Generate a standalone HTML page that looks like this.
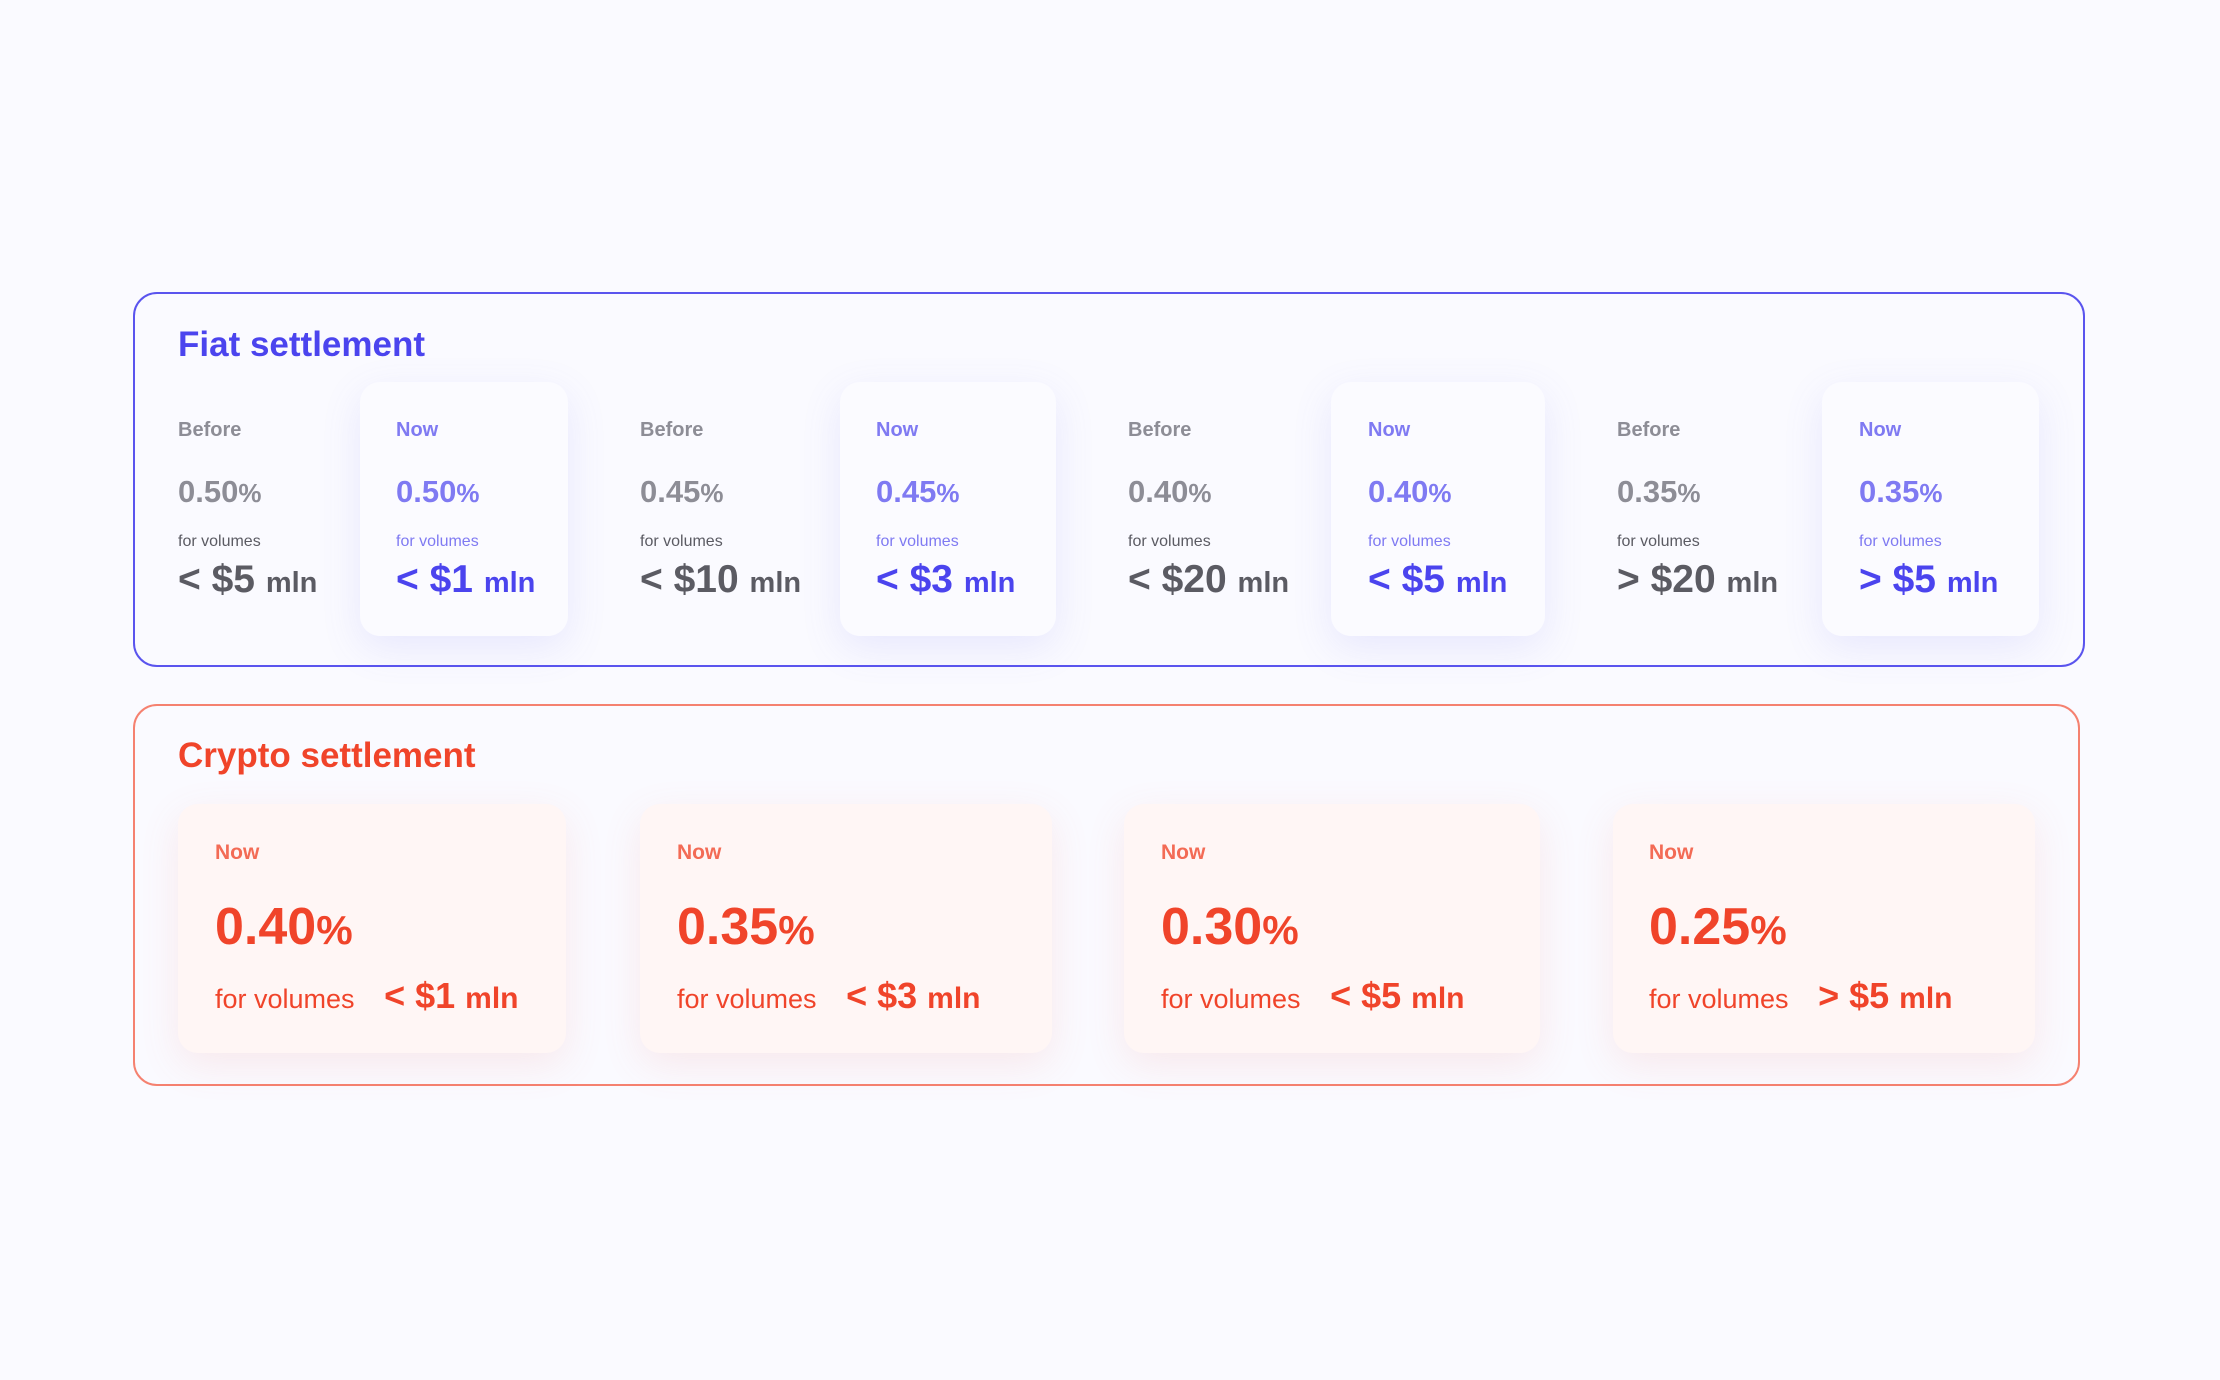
<!DOCTYPE html>
<html><head><meta charset="utf-8"><style>
body{margin:0;width:2220px;height:1380px;background:#fafaff;font-family:"Liberation Sans",sans-serif;position:relative;overflow:hidden}
.box{position:absolute;border-radius:24px;box-sizing:border-box}
.fiat{left:133px;top:292px;width:1952px;height:375px;border:2px solid #5a54ee}
.crypto{left:133px;top:704px;width:1947px;height:382px;border:2px solid #f58170}
.title{position:absolute;font-weight:bold;font-size:35px;line-height:1}
.ncard{position:absolute;top:382px;height:254px;background:#fbfbff;border-radius:20px;box-shadow:0 12px 40px rgba(110,105,240,0.13)}
.ccard{position:absolute;top:804px;height:249px;background:#fff6f5;border-radius:20px;box-shadow:0 12px 40px rgba(240,110,100,0.12)}
.lbl{position:absolute;font-weight:bold;font-size:20px;line-height:1}
.pct{position:absolute;font-weight:bold;font-size:31px;line-height:1}
.pct small{font-size:26px}
.fv{position:absolute;font-size:16px;line-height:1}
.big{position:absolute;font-weight:bold;font-size:39px;line-height:1;white-space:nowrap}
.big small{font-size:29px}
.gray{color:#8d8d96}.dgray{color:#5b5b63}.lb{color:#7f7af2}.bl{color:#4b44ee}
.cn{position:absolute;font-weight:bold;font-size:21px;color:#f36b55;line-height:1}
.cp{position:absolute;font-weight:bold;font-size:52px;color:#f0442a;line-height:1}
.cp small{font-size:41px}
.cv{position:absolute;font-size:27px;color:#f0442a;line-height:1;white-space:nowrap}
.cv b{font-size:36px;margin-left:22px}
.cv b small{font-size:30px}
</style></head><body>
<div class="box fiat"></div>
<div class="title" style="left:178px;top:327px;color:#4b44ee">Fiat settlement</div>

<div class="ncard" style="left:360px;width:208px"></div>
<div class="ncard" style="left:840px;width:216px"></div>
<div class="ncard" style="left:1331px;width:214px"></div>
<div class="ncard" style="left:1822px;width:217px"></div>

<div class="lbl gray" style="left:178px;top:420px">Before</div>
<div class="pct gray" style="left:178px;top:476px">0.50<small>%</small></div>
<div class="fv dgray" style="left:178px;top:534px">for volumes</div>
<div class="big dgray" style="left:178px;top:560px">&lt; $5 <small>mln</small></div>
<div class="lbl lb" style="left:396px;top:420px">Now</div>
<div class="pct lb" style="left:396px;top:476px">0.50<small>%</small></div>
<div class="fv lb" style="left:396px;top:534px">for volumes</div>
<div class="big bl" style="left:396px;top:560px">&lt; $1 <small>mln</small></div>

<div class="lbl gray" style="left:640px;top:420px">Before</div>
<div class="pct gray" style="left:640px;top:476px">0.45<small>%</small></div>
<div class="fv dgray" style="left:640px;top:534px">for volumes</div>
<div class="big dgray" style="left:640px;top:560px">&lt; $10 <small>mln</small></div>
<div class="lbl lb" style="left:876px;top:420px">Now</div>
<div class="pct lb" style="left:876px;top:476px">0.45<small>%</small></div>
<div class="fv lb" style="left:876px;top:534px">for volumes</div>
<div class="big bl" style="left:876px;top:560px">&lt; $3 <small>mln</small></div>

<div class="lbl gray" style="left:1128px;top:420px">Before</div>
<div class="pct gray" style="left:1128px;top:476px">0.40<small>%</small></div>
<div class="fv dgray" style="left:1128px;top:534px">for volumes</div>
<div class="big dgray" style="left:1128px;top:560px">&lt; $20 <small>mln</small></div>
<div class="lbl lb" style="left:1368px;top:420px">Now</div>
<div class="pct lb" style="left:1368px;top:476px">0.40<small>%</small></div>
<div class="fv lb" style="left:1368px;top:534px">for volumes</div>
<div class="big bl" style="left:1368px;top:560px">&lt; $5 <small>mln</small></div>

<div class="lbl gray" style="left:1617px;top:420px">Before</div>
<div class="pct gray" style="left:1617px;top:476px">0.35<small>%</small></div>
<div class="fv dgray" style="left:1617px;top:534px">for volumes</div>
<div class="big dgray" style="left:1617px;top:560px">&gt; $20 <small>mln</small></div>
<div class="lbl lb" style="left:1859px;top:420px">Now</div>
<div class="pct lb" style="left:1859px;top:476px">0.35<small>%</small></div>
<div class="fv lb" style="left:1859px;top:534px">for volumes</div>
<div class="big bl" style="left:1859px;top:560px">&gt; $5 <small>mln</small></div>

<div class="box crypto"></div>
<div class="title" style="left:178px;top:738px;color:#f0442a">Crypto settlement</div>

<div class="ccard" style="left:178px;width:388px"></div>
<div class="ccard" style="left:640px;width:412px"></div>
<div class="ccard" style="left:1124px;width:416px"></div>
<div class="ccard" style="left:1613px;width:422px"></div>

<div class="cn" style="left:215px;top:842px">Now</div>
<div class="cp" style="left:215px;top:901px">0.40<small>%</small></div>
<div class="cv" style="left:215px;top:978px">for volumes <b>&lt; $1 <small>mln</small></b></div>

<div class="cn" style="left:677px;top:842px">Now</div>
<div class="cp" style="left:677px;top:901px">0.35<small>%</small></div>
<div class="cv" style="left:677px;top:978px">for volumes <b>&lt; $3 <small>mln</small></b></div>

<div class="cn" style="left:1161px;top:842px">Now</div>
<div class="cp" style="left:1161px;top:901px">0.30<small>%</small></div>
<div class="cv" style="left:1161px;top:978px">for volumes <b>&lt; $5 <small>mln</small></b></div>

<div class="cn" style="left:1649px;top:842px">Now</div>
<div class="cp" style="left:1649px;top:901px">0.25<small>%</small></div>
<div class="cv" style="left:1649px;top:978px">for volumes <b>&gt; $5 <small>mln</small></b></div>
</body></html>
